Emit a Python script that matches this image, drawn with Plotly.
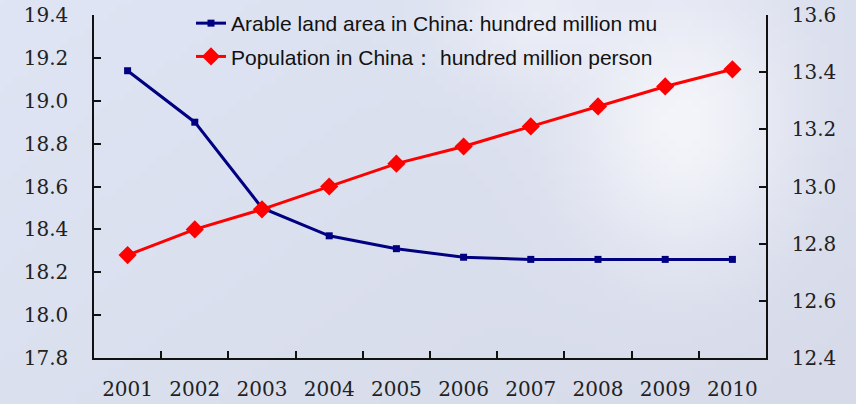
import base64
import struct
import zlib

import numpy as np
import plotly.graph_objects as go

# data
years = ['2001', '2002', '2003', '2004', '2005', '2006', '2007', '2008', '2009', '2010']
arable_land = [19.14, 18.90, 18.50, 18.37, 18.31, 18.27, 18.26, 18.26, 18.26, 18.26]
population = [12.76, 12.85, 12.92, 13.00, 13.08, 13.14, 13.21, 13.28, 13.35, 13.41]
left_ticks = [17.8, 18.0, 18.2, 18.4, 18.6, 18.8, 19.0, 19.2, 19.4]
right_ticks = [12.4, 12.6, 12.8, 13.0, 13.2, 13.4, 13.6]

W, H = 856, 404
L, R, T, B = 94, 90, 15, 46
PW, PH = W - L - R, H - T - B


def png_uri(rgb):
    h, w, _ = rgb.shape
    raw = b''.join(b'\x00' + rgb[i].astype(np.uint8).tobytes() for i in range(h))

    def chunk(tag, data):
        out = struct.pack('>I', len(data)) + tag + data
        return out + struct.pack('>I', zlib.crc32(tag + data) & 0xffffffff)

    png = (b'\x89PNG\r\n\x1a\n'
           + chunk(b'IHDR', struct.pack('>IIBBBBB', w, h, 8, 2, 0, 0, 0))
           + chunk(b'IDAT', zlib.compress(raw))
           + chunk(b'IEND', b''))
    return 'data:image/png;base64,' + base64.b64encode(png).decode()


# soft sky backdrop (pale blue, lighter cloud patch on the right)
gw, gh = 107, 51
gx, gy = np.meshgrid(np.linspace(0, 1, gw), np.linspace(0, 1, gh))
base = np.array([223, 229, 244], float)
shade = np.array([214, 218, 233], float)
cloud = np.array([244, 245, 250], float)
t = np.clip(gx * 0.6 + gy * 0.4, 0, 1)[..., None]
img = base * (1 - t) + shade * t
blob = np.exp(-(((gx - 0.80) / 0.13) ** 2 + ((gy - 0.30) / 0.35) ** 2))[..., None]
blob2 = np.exp(-(((gx - 0.62) / 0.10) ** 2 + ((gy - 0.05) / 0.15) ** 2))[..., None] * 0.6
img = img * (1 - blob) + cloud * blob
img = img * (1 - blob2) + cloud * blob2
bg = png_uri(np.clip(img, 0, 255))

fig = go.Figure()
fig.add_trace(go.Scatter(
    x=years, y=arable_land, yaxis='y', mode='lines+markers',
    name='Arable land area in China: hundred million mu', legendgroup='a',
    line=dict(color='#000080', width=3),
    marker=dict(symbol='square', size=7, color='#000080'),
))
fig.add_trace(go.Scatter(
    x=years, y=population, yaxis='y2', mode='lines+markers',
    name='Population in China\uff1a hundred million person', legendgroup='b',
    line=dict(color='#ff0000', width=3),
    marker=dict(symbol='diamond', size=14, color='#ff0000'),
))

tick_font = dict(family='DejaVu Serif', size=20, color='#222222')
axis_common = dict(
    showgrid=False, zeroline=False, showline=True, linecolor='#111111', linewidth=1.5,
    ticks='inside', ticklen=7, tickcolor='#111111', tickwidth=1.5,
    tickfont=tick_font, automargin=False,
)

fig.update_layout(
    width=W, height=H,
    margin=dict(l=L, r=R, t=T, b=B, autoexpand=False),
    paper_bgcolor='#e0e6f3',
    plot_bgcolor='rgba(0,0,0,0)',
    showlegend=True,
    legend=dict(
        x=(191 - L) / PW, y=1 + 12 / PH, xanchor='left', yanchor='top',
        bgcolor='rgba(0,0,0,0)', traceorder='grouped', tracegroupgap=3,
        font=dict(family='Liberation Sans', size=21, color='#111111'),
    ),
    xaxis=dict(type='category', range=[-0.5, 9.5], tickson='boundaries',
               ticklabelstandoff=12, **axis_common),
    yaxis=dict(range=[17.8, 19.4], tickvals=left_ticks, ticklabelstandoff=20,
               ticktext=[f'{v:.1f}' for v in left_ticks], **axis_common),
    yaxis2=dict(range=[12.4, 13.6], tickvals=right_ticks, overlaying='y', side='right',
                ticklabelstandoff=20,
                ticktext=[f'{v:.1f}' for v in right_ticks], **axis_common),
    images=[dict(
        source=bg, xref='paper', yref='paper',
        x=-L / PW, y=1 + T / PH, sizex=W / PW, sizey=H / PH,
        xanchor='left', yanchor='top', sizing='stretch', layer='below',
    )],
)

fig.write_html('out.html', config={'displayModeBar': False},
               post_script="document.body.style.margin='0px';")
